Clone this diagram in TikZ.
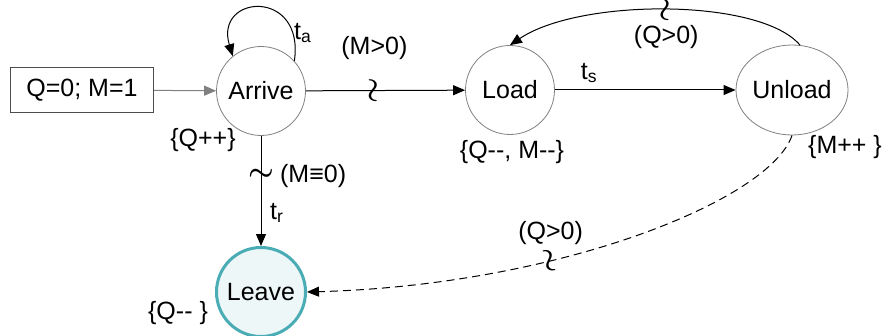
\documentclass[tikz,border=0pt]{standalone}
\usepackage{amsmath}
\usepackage{fontspec}
\setmainfont{Liberation Sans}
\usepackage{xcolor}
\usetikzlibrary{arrows.meta, positioning, shapes.geometric}
\definecolor{leaveline}{HTML}{4AACB4}
\definecolor{leavefill}{HTML}{EEF7F8}

\begin{document}
\begin{tikzpicture}[
  x=0.5pt, y=-0.5pt,
  every node/.style={font=\fontsize{12.5}{15}\selectfont},
  state/.style={circle, draw=gray, minimum size=44.5pt, inner sep=0pt},
  initbox/.style={rectangle, draw=black!70, minimum width=71.5pt,
                  minimum height=22.5pt, inner sep=0pt},
  arrow/.style={-{Triangle[length=6pt, width=5pt]}, line width=0.5pt},
  wave/.style={sloped, rotate=90, inner sep=0pt, font=\Large},
]
\useasboundingbox (0,0) rectangle (882,336);
\node[initbox] (init) at (82,90)  {Q=0; M=1};
\node[state]   (arr)  at (261,91) {Arrive};
\node[state]   (lod)  at (510,90) {Load};
\node[state, ellipse, minimum width=50.5pt, minimum height=45pt]
               (unl)  at (792,90) {Unload};
\node[state, draw=leaveline, fill=leavefill, line width=1.5pt]
               (lev)  at (261,292) {Leave};
% actions
\node (aArr) at (203,140) {\{Q++\}};
\node (aLod) at (512,152) {\{Q-{}-, M-{}-\}};
\node (aUnl) at (845,147) {\{M++ \}};
\node (aLev) at (178,313) {\{Q-{}- \}};
% transitions
\draw[arrow, draw=gray] (init) -- (arr);
\draw[arrow] (arr.42) .. controls (305,-12) and (214,-6) .. (arr.129);
\node (ta) at (303,33) {t\textsubscript{a}};
\draw[arrow] (arr) -- node[wave, pos=0.43] (w1) {$\boldsymbol{\sim}$}
             node[above=12pt, pos=0.43] (gM) {(M>0)} (lod);
\draw[arrow] (lod) -- node[above, pos=0.19] (ts) {t\textsubscript{s}} (unl);
\draw[arrow] (unl.80) .. controls (760,-2) and (580,-2) .. (lod.north)
             node[wave, pos=0.5] (w2) {$\boldsymbol{\sim}$}
             node[below=4pt, pos=0.5] (gQ1) {(Q>0)};
\draw[arrow] (arr) -- node[wave, pos=0.35] (w3) {$\boldsymbol{\sim}$}
             node[right=6pt, pos=0.36] (gM0) {(M≡0)}
             node[right=1pt, pos=0.7] (tr) {t\textsubscript{r}} (lev);
\draw[arrow, dash pattern=on 4pt off 2.5pt] (unl.south)
             .. controls (770,200) and (560,285) .. (lev.east)
             node[wave, pos=0.65] (w4) {$\boldsymbol{\sim}$}
             node[above=4pt, pos=0.65] (gQ2) {(Q>0)};
\end{tikzpicture}
\end{document}
